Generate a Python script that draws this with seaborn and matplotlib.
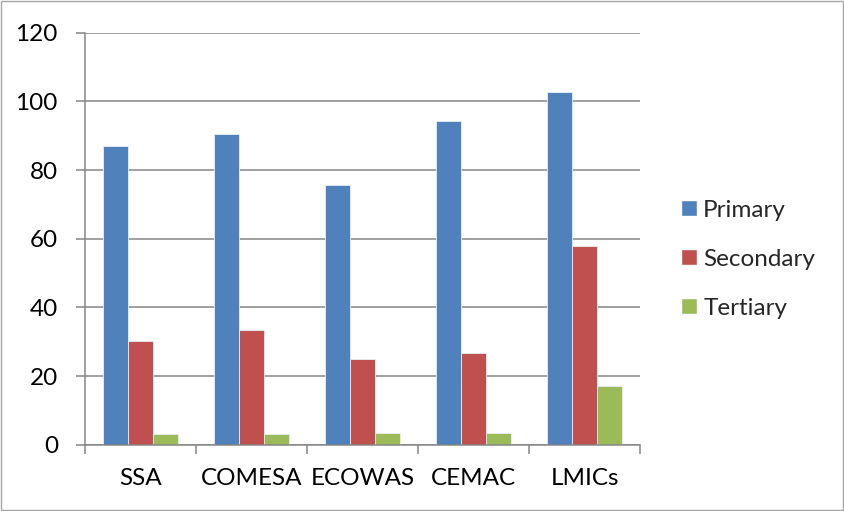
import pandas as pd
import matplotlib.pyplot as plt
import seaborn as sns
from matplotlib.patches import Rectangle

# dados
regioes = ['SSA', 'COMESA', 'ECOWAS', 'CEMAC', 'LMICs']
primary = [86.9, 90.5, 75.6, 94.4, 102.8]
secondary = [30.2, 33.4, 25.0, 26.7, 57.9]
tertiary = [3.2, 3.0, 3.4, 3.4, 17.2]
niveis = ['Primary', 'Secondary', 'Tertiary']
cores = ['#4F81BD', '#C0504D', '#9BBB59']

df = pd.DataFrame({'regiao': regioes, 'Primary': primary,
                   'Secondary': secondary, 'Tertiary': tertiary})
df = df.melt(id_vars='regiao', var_name='nivel', value_name='valor')

sns.set_style('white')
plt.rcParams['font.family'] = ['Lato', 'DejaVu Sans']
tam = 17.5

fig = plt.figure(figsize=(8.44, 5.11), dpi=100)
ax = fig.add_axes([0.1007, 0.1297, 0.6576, 0.8063])

sns.barplot(data=df, x='regiao', y='valor', hue='nivel', hue_order=niveis,
            palette=cores, width=0.67, gap=0, saturation=1,
            edgecolor='#e8eef6', linewidth=0.6, ax=ax)

cinza = '#868686'
ax.set_ylim(0, 120)
ax.set_xlim(-0.5, 4.5)
ax.set_yticks(range(0, 121, 20))
ax.grid(axis='y', color=cinza, linewidth=1.1)
ax.set_axisbelow(True)
ax.set_xlabel('')
ax.set_ylabel('')

for lado in ['top', 'right']:
    ax.spines[lado].set_visible(False)
for lado in ['left', 'bottom']:
    ax.spines[lado].set_color(cinza)
    ax.spines[lado].set_linewidth(1.1)

ax.tick_params(axis='y', which='major', length=6.5, width=1.1, color=cinza,
               pad=13, labelsize=tam, labelcolor='black', direction='out', left=True)
ax.tick_params(axis='x', which='major', length=0, pad=17, labelsize=tam, labelcolor='black')
ax.set_xticks([i + 0.5 for i in range(-1, 5)], minor=True)
ax.tick_params(axis='x', which='minor', length=6.5, width=1.1, color=cinza,
               direction='out', bottom=True)

ax.get_legend().remove()
handles = [Rectangle((0, 0), 1, 1, facecolor=c) for c in cores]
fig.legend(handles, niveis, loc='center left', bbox_to_anchor=(0.807, 0.493),
           frameon=False, fontsize=tam, borderpad=0, borderaxespad=0,
           handlelength=0.66, handleheight=0.66, handletextpad=0.25,
           labelspacing=1.15)

fig.patches.append(Rectangle((0.001, 0.001), 0.998, 0.998, transform=fig.transFigure,
                             fill=False, edgecolor='#a6a6a6', linewidth=1))

fig.savefig('out.png', dpi=100, facecolor='white')
plt.close()
